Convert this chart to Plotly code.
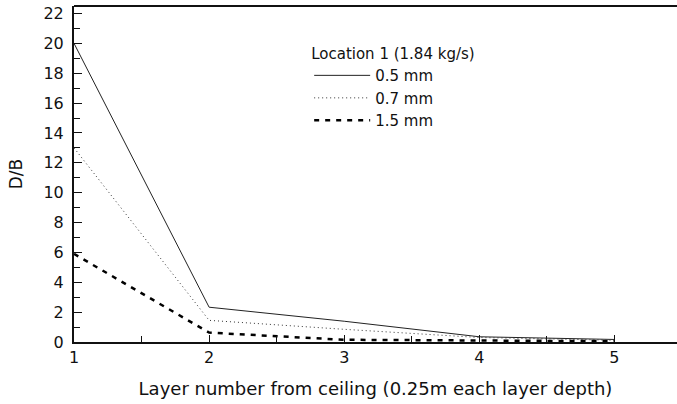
import plotly.graph_objects as go

layers = [1, 2, 3, 4, 5]
db_05mm = [20.0, 2.33, 1.39, 0.35, 0.17]
db_07mm = [13.0, 1.45, 0.85, 0.30, 0.12]
db_15mm = [5.9, 0.63, 0.15, 0.10, 0.05]
series_names = ["0.5 mm", "0.7 mm", "1.5 mm"]
legend_title = "Location 1 (1.84 kg/s)"
x_title = "Layer number from ceiling (0.25m each layer depth)"
y_title = "D/B"

FONT = "DejaVu Sans, Liberation Sans, Arial, sans-serif"

fig = go.Figure()
fig.add_trace(go.Scatter(x=layers, y=db_05mm, mode="lines", name=series_names[0],
                         line=dict(color="#222222", width=1, dash="solid")))
fig.add_trace(go.Scatter(x=layers, y=db_07mm, mode="lines", name=series_names[1],
                         line=dict(color="#333333", width=1, dash="1px,3px")))
fig.add_trace(go.Scatter(x=layers, y=db_15mm, mode="lines", name=series_names[2],
                         line=dict(color="#000000", width=2.5, dash="5px,6px")))

fig.update_layout(
    width=677, height=404,
    margin=dict(l=74, r=0, t=6, b=61.5, pad=0),
    paper_bgcolor="white", plot_bgcolor="white",
    font=dict(family=FONT, size=16, color="#111111"),
    showlegend=True,
    legend=dict(
        x=0.39, y=0.90, xanchor="left", yanchor="top",
        bgcolor="rgba(0,0,0,0)", borderwidth=0,
        font=dict(family=FONT, size=15, color="#111111"),
        title=dict(text=legend_title, font=dict(family=FONT, size=15, color="#111111")),
        itemwidth=56, tracegroupgap=0,
    ),
    xaxis=dict(
        range=[1, 5.463], tickmode="array", tickvals=[1, 2, 3, 4, 5],
        ticks="inside", ticklen=7, tickwidth=1.2, tickcolor="#111111",
        minor=dict(tickvals=[1.5, 2.5, 3.5, 4.5], ticks="inside", ticklen=6,
                   tickwidth=1.2, tickcolor="#111111"),
        showline=True, linewidth=2, linecolor="#111111", mirror=False,
        showgrid=False, zeroline=False,
        title=dict(text=x_title, standoff=16, font=dict(size=18)),
        tickfont=dict(size=16),
    ),
    yaxis=dict(
        range=[0, 22.5], tickmode="array", tickvals=list(range(0, 23, 2)),
        ticks="inside", ticklen=8, tickwidth=1.2, tickcolor="#111111",
        minor=dict(tickvals=list(range(1, 23, 2)), ticks="inside", ticklen=6,
                   tickwidth=1.2, tickcolor="#111111"),
        showline=True, linewidth=2, linecolor="#111111",
        showgrid=False, zeroline=False,
        ticklabelstandoff=5,
        title=dict(text=y_title, standoff=16, font=dict(size=17)),
        tickfont=dict(size=16),
    ),
)
# top frame line
fig.add_shape(type="line", xref="paper", yref="paper", x0=0, x1=1, y0=1, y1=1,
              line=dict(color="#111111", width=2))

fig.write_html("out.html")
